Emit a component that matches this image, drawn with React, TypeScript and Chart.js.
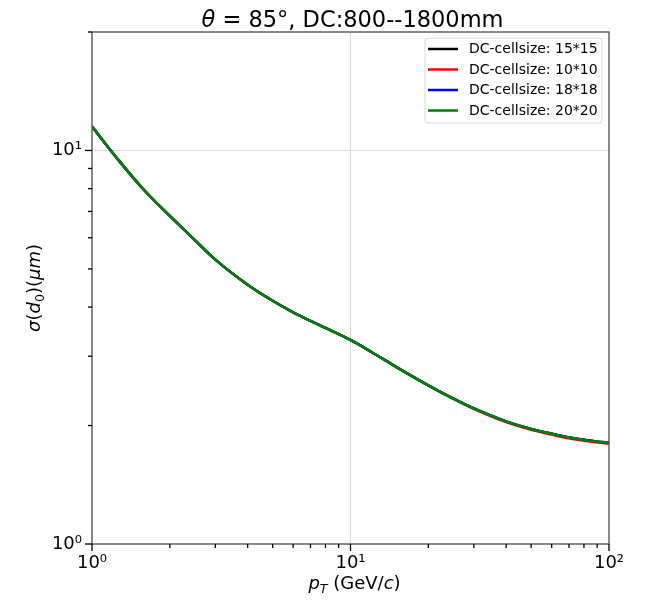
import React, { useEffect, useRef } from "react";
import { Chart, registerables } from "chart.js";

Chart.register(...registerables);

// ---------- data ----------
const ptValues = [1, 1.25, 1.6, 2, 2.5, 3, 4, 5, 6, 7, 8, 10, 12, 15, 20, 25, 30, 40, 50, 60, 70, 80, 90, 100];
const sigma15 = [11.5, 9.55, 7.9, 6.82, 5.92, 5.28, 4.56, 4.15, 3.88, 3.69, 3.54, 3.30, 3.08, 2.82, 2.53, 2.34, 2.21, 2.05, 1.96, 1.906, 1.865, 1.84, 1.82, 1.81];
const sigma10 = [11.5, 9.55, 7.9, 6.82, 5.92, 5.28, 4.56, 4.15, 3.88, 3.69, 3.54, 3.30, 3.08, 2.82, 2.53, 2.34, 2.205, 2.04, 1.95, 1.897, 1.856, 1.83, 1.81, 1.80];
const sigma18 = [11.5, 9.55, 7.9, 6.82, 5.92, 5.28, 4.56, 4.15, 3.88, 3.69, 3.54, 3.30, 3.08, 2.82, 2.53, 2.34, 2.21, 2.05, 1.96, 1.906, 1.865, 1.84, 1.82, 1.81];
const sigma20 = [11.5, 9.55, 7.9, 6.82, 5.92, 5.28, 4.56, 4.15, 3.88, 3.69, 3.54, 3.30, 3.08, 2.82, 2.53, 2.34, 2.21, 2.05, 1.96, 1.906, 1.865, 1.84, 1.82, 1.81];

const seriesLabels = ["DC-cellsize: 15*15", "DC-cellsize: 10*10", "DC-cellsize: 18*18", "DC-cellsize: 20*20"];
const seriesColors = ["#000000", "#ff0000", "#0000ff", "#008000"];

const xMajorTicks = [1, 10, 100];
const xMinorTicks = [2, 3, 4, 5, 6, 7, 8, 9, 20, 30, 40, 50, 60, 70, 80, 90];
const yMajorTicks = [1, 10];
const yMinorTicks = [2, 3, 4, 5, 6, 7, 8, 9, 20];
const xTickLabels: Record<number, string> = { 1: "10⁰", 10: "10¹", 100: "10²" };
const yTickLabels: Record<number, string> = { 1: "10⁰", 10: "10¹" };

const FONT = '"DejaVu Sans"';

type Seg = { t: string; it?: boolean; sub?: boolean };

function segFont(s: Seg, size: number) {
  const sz = s.sub ? size * 0.7 : size;
  return `${s.it ? "italic " : ""}${sz}px ${FONT}`;
}

function drawRich(ctx: CanvasRenderingContext2D, segs: Seg[], cx: number, baseline: number, size: number) {
  let total = 0;
  for (const s of segs) {
    ctx.font = segFont(s, size);
    total += ctx.measureText(s.t).width;
  }
  let x = cx - total / 2;
  ctx.textAlign = "left";
  ctx.textBaseline = "alphabetic";
  for (const s of segs) {
    ctx.font = segFont(s, size);
    ctx.fillText(s.t, x, baseline + (s.sub ? size * 0.22 : 0));
    x += ctx.measureText(s.t).width;
  }
}

const decorPlugin = {
  id: "decor",
  afterDatasetsDraw(chart: any) {
    const ctx: CanvasRenderingContext2D = chart.ctx;
    const { left, right, top, bottom } = chart.chartArea;
    const xs = chart.scales.x;
    const ys = chart.scales.y;
    ctx.save();
    // spines
    ctx.strokeStyle = "#4a4a4a";
    ctx.lineWidth = 1.3;
    ctx.strokeRect(left, top, right - left, bottom - top);
    // tick marks
    ctx.strokeStyle = "#000";
    ctx.lineWidth = 1.3;
    const tick = (x1: number, y1: number, x2: number, y2: number) => {
      ctx.beginPath();
      ctx.moveTo(x1, y1);
      ctx.lineTo(x2, y2);
      ctx.stroke();
    };
    xMajorTicks.forEach((v) => { const p = xs.getPixelForValue(v); tick(p, bottom, p, bottom + 7); });
    xMinorTicks.forEach((v) => { const p = xs.getPixelForValue(v); tick(p, bottom, p, bottom + 4); });
    yMajorTicks.forEach((v) => { const p = ys.getPixelForValue(v); tick(left, p, left - 7, p); });
    yMinorTicks.forEach((v) => { const p = ys.getPixelForValue(v); tick(left, p, left - 4, p); });

    ctx.fillStyle = "#000";
    // title
    drawRich(ctx, [{ t: "θ", it: true }, { t: " = 85°, DC:800--1800mm" }], (left + right) / 2 + 2, 26.5, 22.5);
    // x label
    drawRich(ctx, [{ t: "p", it: true }, { t: "T", it: true, sub: true }, { t: " (GeV/" }, { t: "c", it: true }, { t: ")" }], (left + right) / 2 + 4, 589, 18);
    // y label
    ctx.save();
    ctx.translate(40, (top + bottom) / 2);
    ctx.rotate(-Math.PI / 2);
    drawRich(ctx, [{ t: "σ", it: true }, { t: "(" }, { t: "d", it: true }, { t: "0", sub: true }, { t: ")(" }, { t: "μm", it: true }, { t: ")" }], 0, 0, 18);
    ctx.restore();

    // legend
    const bx = 425, by = 38, bw = 177, bh = 85, r = 3;
    ctx.beginPath();
    ctx.moveTo(bx + r, by);
    ctx.arcTo(bx + bw, by, bx + bw, by + bh, r);
    ctx.arcTo(bx + bw, by + bh, bx, by + bh, r);
    ctx.arcTo(bx, by + bh, bx, by, r);
    ctx.arcTo(bx, by, bx + bw, by, r);
    ctx.closePath();
    ctx.fillStyle = "rgba(255,255,255,0.85)";
    ctx.fill();
    ctx.strokeStyle = "#d6d6d6";
    ctx.lineWidth = 1;
    ctx.stroke();
    chart.data.datasets.forEach((ds: any, i: number) => {
      const ry = 49 + i * 20.5;
      ctx.strokeStyle = ds.borderColor;
      ctx.lineWidth = 2.5;
      tick(428, ry, 458, ry);
      ctx.fillStyle = "#000";
      ctx.font = `14px ${FONT}`;
      ctx.textAlign = "left";
      ctx.textBaseline = "middle";
      ctx.fillText(ds.label, 469, ry + 0.5);
    });
    ctx.restore();
  },
};

export default function App() {
  const canvasRef = useRef<HTMLCanvasElement | null>(null);

  useEffect(() => {
    document.body.style.margin = "0";
    const canvas = canvasRef.current;
    if (!canvas) return;
    const seriesValues = [sigma15, sigma10, sigma18, sigma20];
    const datasets = seriesValues.map((vals, i) => ({
      label: seriesLabels[i],
      data: ptValues.map((x, j) => ({ x, y: vals[j] })),
      borderColor: seriesColors[i],
      backgroundColor: seriesColors[i],
      borderWidth: 2.5,
      pointRadius: 0,
      fill: false,
      cubicInterpolationMode: "monotone" as const,
      order: seriesValues.length - i,
    }));

    const majorGrid = (ctx: any) => {
      const v = ctx.tick ? ctx.tick.value : 0;
      return v === 10 ? "#d9d9d9" : "rgba(0,0,0,0)";
    };

    const chart = new Chart(canvas, {
      type: "line",
      data: { datasets },
      options: {
        responsive: false,
        animation: false,
        layout: { padding: { top: 32, right: 40, left: 0, bottom: 0 } },
        plugins: {
          legend: { display: false },
          title: { display: false },
          tooltip: { enabled: false },
        },
        scales: {
          x: {
            type: "logarithmic",
            min: 1,
            max: 100,
            afterBuildTicks: (s: any) => {
              s.ticks = [...xMajorTicks, ...xMinorTicks].sort((a, b) => a - b).map((v) => ({ value: v }));
            },
            afterFit: (s: any) => { s.height = 58; },
            border: { display: false },
            grid: { drawTicks: false, color: majorGrid, lineWidth: 1 },
            ticks: {
              autoSkip: false,
              maxRotation: 0,
              padding: 9,
              color: "#000",
              font: { family: "DejaVu Sans", size: 18 },
              callback: (v: any) => xTickLabels[Number(v)] ?? "",
            },
          },
          y: {
            type: "logarithmic",
            min: 1,
            max: 20,
            afterBuildTicks: (s: any) => {
              s.ticks = [...yMajorTicks, ...yMinorTicks].sort((a, b) => a - b).map((v) => ({ value: v }));
            },
            afterFit: (s: any) => { s.width = 92; },
            border: { display: false },
            grid: { drawTicks: false, color: majorGrid, lineWidth: 1 },
            ticks: {
              autoSkip: false,
              padding: 10,
              color: "#000",
              font: { family: "DejaVu Sans", size: 18 },
              callback: (v: any) => yTickLabels[Number(v)] ?? "",
            },
          },
        },
      },
      plugins: [decorPlugin],
    } as any);

    return () => chart.destroy();
  }, []);

  return (
    <div style={{ width: 649, height: 602, background: "#fff" }}>
      <canvas ref={canvasRef} width={649} height={602} />
    </div>
  );
}
